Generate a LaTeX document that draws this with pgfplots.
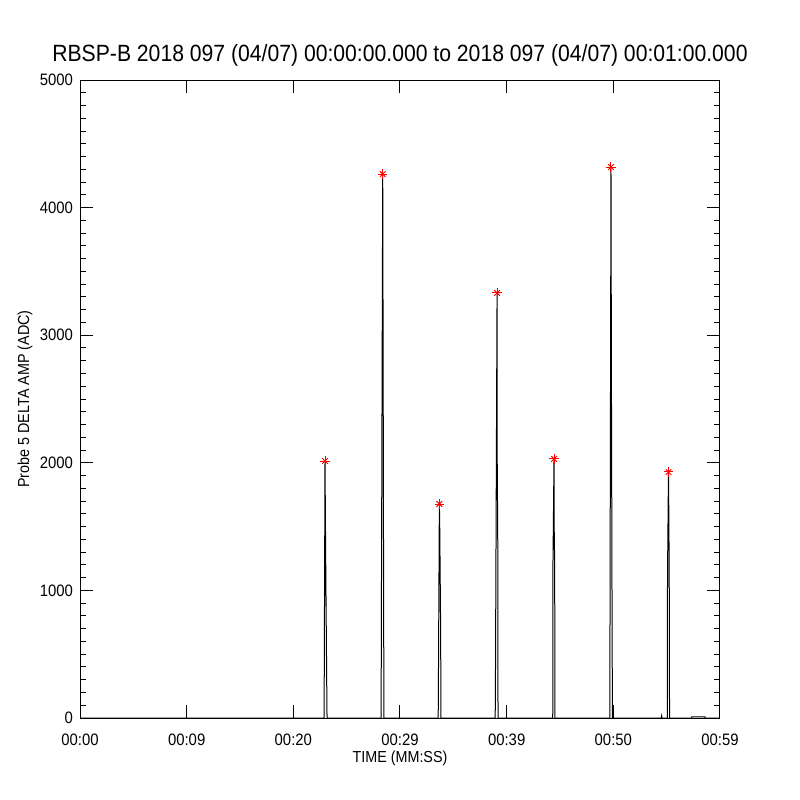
\documentclass[border=0pt]{standalone}
\usepackage{pgfplots}
\pgfplotsset{compat=1.18}
\usepackage{pgfplotstable}
\usepackage{fontspec}
\setmainfont{Liberation Sans}[FakeStretch=0.9]

\pgfplotstableread{
x y
0 0
22.88 0
22.90 350
22.97 2014
23.03 1290
23.13 275
23.16 0
28.23 0
28.25 635
28.38 4263
28.42 2775
28.47 713
28.50 0
33.57 0
33.59 78
33.69 1677
33.72 1552
33.81 705
33.84 0
38.92 0
38.94 118
39.10 3331
39.12 1787
39.16 1630
39.19 0
44.32 0
44.34 1200
44.44 2030
44.46 1465
44.50 1222
44.53 0
49.67 0
49.69 823
49.78 4318
49.82 2711
49.89 548
49.92 0
54.50 0
54.53 15
54.56 0
55.06 0
55.08 1113
55.17 1928
55.20 1622
55.24 1113
55.27 0
57.33 0
57.35 8
58.60 8
58.62 0
60 0
}\series

\pgfplotstableread{
x y
22.97 2014
28.38 4263
33.69 1677
39.10 3331
44.44 2030
49.78 4318
55.17 1928
}\peaks

\begin{document}
\begin{tikzpicture}
\path[use as bounding box] (0,0) rectangle (400bp,400bp);
\begin{axis}[
  at={(40bp,41bp)}, anchor=south west,
  scale only axis, width=320bp, height=319bp,
  xmin=0, xmax=60, ymin=0, ymax=5000,
  xtick={0,10,20,30,40,50,60},
  xticklabels={00:00,00:09,00:20,00:29,00:39,00:50,00:59},
  ytick={0,1000,2000,3000,4000,5000},
  minor y tick num=9,
  tick align=inside,
  major tick length=6.4bp, minor tick length=3bp,
  axis line style={line width=0.5bp},
  every tick/.style={black,line width=0.5bp},
  tick label style={font=\fontsize{8.3}{10}\selectfont},
  /pgf/number format/assume math mode=true,
  /pgf/number format/1000 sep={},
  scaled y ticks=false,
  xticklabel style={anchor=center, yshift=-11bp},
  title={RBSP-B 2018 097 (04/07) 00:00:00.000 to 2018 097 (04/07) 00:01:00.000},
  title style={font=\fontsize{11.8}{13}\selectfont, at={([yshift=3.5bp]axis description cs:0.5,1)}, anchor=base},
  xlabel={TIME (MM:SS)},
  ylabel={Probe 5 DELTA AMP (ADC)},
  label style={font=\fontsize{8}{9.6}\selectfont},
  xlabel style={at={([yshift=-20bp]axis description cs:0.5,0)}, anchor=center},
  ylabel style={at={([xshift=-27.5bp]axis description cs:0,0.5)}, anchor=center, rotate=0},
  clip=false,
]
\addplot[black, line width=0.5bp, mark=none] table[x=x,y=y] {\series};
\addplot[red, only marks, mark=+, mark size=2.3bp, mark options={line width=0.5bp}] table[x=x,y=y] {\peaks};
\addplot[red, only marks, mark=x, mark size=2.0bp, mark options={line width=0.5bp}] table[x=x,y=y] {\peaks};
\end{axis}
\end{tikzpicture}
\end{document}
